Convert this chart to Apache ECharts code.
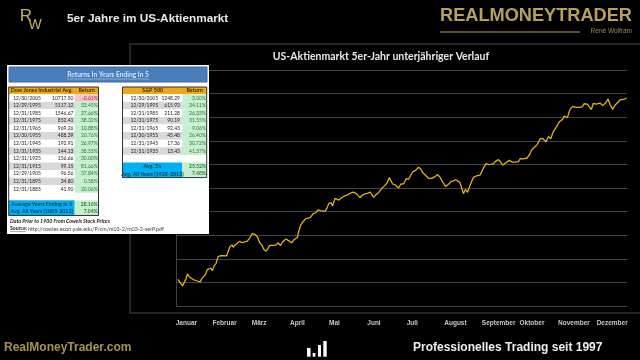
<!DOCTYPE html>
<html>
<head>
<meta charset="utf-8">
<style>
  html, body { margin: 0; background: #000; }
  #chart { width: 640px; height: 360px; }
</style>
<script src="https://cdn.jsdelivr.net/npm/echarts@6/dist/echarts.min.js"></script>
</head>
<body>
<div id="chart"></div>
<script>
const months = ['Januar', 'Februar', 'März', 'April', 'Mai', 'Juni', 'Juli', 'August', 'September', 'Oktober', 'November', 'Dezember']
const monthTicks = [8, 39, 67, 98, 128, 160, 191, 226, 261, 288, 322, 353]

// day of the year and index level (no scale is shown, 0-100 here)
const days = [1.1, 2.4, 3.5, 4.9, 5.9, 7.6, 8.9, 10.3, 11.9, 13.5, 14.6, 16.2, 17.5, 19.2, 20.5, 22.1, 23.5, 24.8, 26.4, 27.8, 29.1, 30.5, 32.1, 33.7, 35.6, 37.8, 40.5, 41.5, 43.2, 45.0, 45.9, 47.7, 49.6, 51.3, 53.1, 55.0, 57.2, 59.3, 61.5, 62.6, 64.2, 65.8, 67.4, 69.1, 70.7, 72.6, 73.9, 75.5, 77.1, 78.8, 80.7, 82.3, 84.2, 85.8, 87.4, 88.7, 90.4, 91.7, 93.3, 95.0, 96.6, 97.9, 99.0, 100.6, 102.5, 104.7, 106.3, 108.4, 110.6, 112.7, 114.6, 116.5, 118.1, 120.3, 121.9, 123.5, 125.2, 126.5, 128.4, 130.0, 131.6, 133.8, 135.9, 138.1, 140.3, 142.4, 144.6, 146.5, 148.6, 150.5, 152.7, 154.8, 157.0, 158.3, 159.7, 161.8, 163.7, 165.1, 166.4, 168.3, 170.5, 172.4, 173.5, 175.1, 177.2, 179.9, 181.8, 184.2, 186.1, 188.0, 189.9, 191.5, 194.0, 196.1, 198.0, 199.6, 201.8, 204.2, 206.9, 209.1, 211.5, 213.6, 215.8, 218.0, 220.4, 222.3, 224.4, 226.1, 227.7, 229.6, 230.9, 232.5, 234.1, 235.8, 237.1, 238.5, 240.6, 242.8, 244.1, 246.0, 247.6, 249.2, 250.9, 252.8, 254.6, 256.8, 258.4, 260.8, 262.7, 264.3, 266.5, 268.1, 269.7, 271.9, 274.3, 277.0, 278.4, 280.5, 281.6, 283.8, 285.9, 288.1, 290.5, 292.4, 294.6, 296.7, 299.4, 301.3, 303.2, 305.3, 308.0, 310.2, 312.9, 314.0, 316.7, 318.8, 321.0, 323.7, 326.9, 329.1, 330.2, 332.9, 334.5, 336.1, 337.7, 339.9, 341.5, 343.1, 345.3, 347.4, 349.6, 351.2, 353.3, 355.5, 357.7, 359.3, 360.9, 363.0, 364.7]
const levels = [11.3, 11.9, 9.6, 8.5, 9.6, 11.3, 13.6, 12.4, 12.0, 11.2, 11.7, 10.7, 10.5, 10.2, 11.6, 12.4, 13.4, 15.3, 15.7, 16.1, 15.0, 17.0, 18.1, 20.9, 21.3, 21.3, 21.2, 22.6, 25.1, 25.9, 24.9, 26.0, 26.8, 27.4, 26.8, 27.2, 27.4, 28.8, 30.8, 31.2, 30.1, 29.1, 26.8, 25.9, 24.0, 23.2, 24.2, 25.7, 26.1, 25.7, 25.9, 26.8, 25.6, 27.1, 27.5, 28.4, 27.8, 27.5, 26.8, 28.0, 28.8, 29.1, 31.5, 34.3, 35.7, 37.0, 36.6, 37.4, 39.0, 39.5, 40.7, 40.4, 39.7, 40.1, 41.5, 43.5, 43.8, 42.4, 45.6, 46.2, 44.9, 45.9, 46.6, 47.0, 47.6, 48.2, 48.0, 47.2, 45.9, 46.9, 47.5, 47.7, 48.3, 47.5, 46.0, 47.3, 48.0, 48.0, 49.9, 50.8, 52.0, 54.4, 54.1, 51.7, 51.3, 50.0, 51.7, 51.8, 54.0, 53.7, 55.5, 56.9, 57.6, 58.8, 57.9, 56.5, 55.4, 54.1, 54.1, 54.7, 55.7, 54.5, 52.4, 50.7, 51.6, 52.7, 53.0, 53.5, 52.8, 52.4, 50.3, 47.6, 49.4, 48.2, 48.9, 52.0, 54.5, 55.1, 54.5, 55.5, 56.2, 59.0, 60.3, 59.9, 60.0, 60.3, 61.3, 62.0, 60.9, 59.7, 60.6, 60.0, 61.7, 61.0, 61.0, 61.2, 62.4, 62.3, 63.0, 62.6, 64.0, 66.4, 67.5, 68.5, 70.9, 71.0, 69.6, 71.8, 70.9, 73.9, 76.0, 78.1, 79.1, 80.5, 79.8, 83.3, 84.6, 84.2, 84.2, 84.5, 85.7, 85.5, 85.6, 83.2, 85.9, 85.5, 85.2, 86.0, 84.9, 85.9, 87.7, 85.5, 83.3, 85.2, 86.3, 87.3, 86.7, 87.7, 88.1]

const dowRows = [
  ['12/30/2005', '10717.50', '-0.61%'],
  ['12/29/1995', '5117.12', '33.45%'],
  ['12/31/1985', '1546.67', '27.66%'],
  ['12/31/1975', '852.41', '38.32%'],
  ['12/31/1965', '969.26', '10.88%'],
  ['12/30/1955', '488.39', '20.76%'],
  ['12/31/1945', '192.91', '26.97%'],
  ['12/31/1935', '144.13', '38.53%'],
  ['12/31/1925', '156.66', '30.00%'],
  ['12/31/1915', '99.15', '81.66%'],
  ['12/29/1905', '96.56', '37.84%'],
  ['12/31/1895', '34.80', '0.58%'],
  ['12/31/1885', '41.90', '20.06%']
]
const spRows = [
  ['12/30/2005', '1248.29', '3.00%'],
  ['12/29/1995', '615.93', '34.11%'],
  ['12/31/1985', '211.28', '26.33%'],
  ['12/31/1975', '90.19', '31.55%'],
  ['12/31/1965', '92.43', '9.06%'],
  ['12/30/1955', '45.48', '26.40%'],
  ['12/31/1945', '17.36', '30.72%'],
  ['12/31/1935', '13.43', '41.37%']
]
const dowSummary = [['Average Years Ending In 5', '28.16%'], ['Avg. All Years (1885-2013)', '7.04%']]
const spSummary = [["Avg. 5's", '25.32%'], ['Avg. All Years (1928-2013)', '7.48%']]

const tableFont = 'Lato, "Open Sans", sans-serif'
const headFont = '"Liberation Sans", sans-serif'
const gold = '#b8a05a'
const elements = []

function rect(x, y, width, height, fill, stroke) {
  elements.push({
    type: 'rect',
    z: 100,
    shape: { x, y, width, height },
    style: { fill: fill || 'transparent', stroke: stroke || null, lineWidth: stroke ? 1 : 0 }
  })
}

function label(text, x, y, opts) {
  opts = opts || {}
  elements.push({
    type: 'text',
    z: 100,
    x,
    y,
    style: {
      text,
      fill: opts.color || '#222',
      font: (opts.weight || 'normal') + ' ' + (opts.size || 5) + 'px ' + (opts.family || tableFont),
      align: opts.align || 'center',
      verticalAlign: 'middle'
    }
  })
}

function line(x1, y1, x2, y2, color, width) {
  elements.push({
    type: 'line',
    z: 100,
    shape: { x1, y1, x2, y2 },
    style: { stroke: color, lineWidth: width }
  })
}

function returnsTable(t) {
  const top = 87
  const rowH = 7.58
  const bodyTop = top + 7.2
  rect(t.left, top, t.right - t.left, 7, '#f0a818')
  label(t.title, t.titleX, top + 3.6, { weight: 'bold', color: '#3a2a00', size: 5.4 })
  label('Return', t.returnX, top + 3.6, { weight: 'bold', color: '#3a2a00', size: 5.4 })
  t.rows.forEach(function(row, i) {
    const y = bodyTop + i * rowH
    rect(t.left, y, t.right - t.left, rowH, i % 2 ? '#d9d9d9' : '#ffffff')
    rect(t.split, y, t.right - t.split, rowH, row[2].charAt(0) === '-' ? '#f8c4cc' : '#c6efce')
    label(row[0], t.dateX, y + rowH / 2)
    label(row[1], t.valueX, y + rowH / 2, { align: 'right' })
    label(row[2], t.right - 0.8, y + rowH / 2, { align: 'right', color: row[2].charAt(0) === '-' ? '#b02030' : '#2f7a3a' })
  })
  const blankY = bodyTop + t.rows.length * rowH
  const sumY = blankY + rowH
  rect(t.left, sumY, t.split - t.left, rowH * 2, '#00b0f0')
  rect(t.split, sumY, t.right - t.split, rowH * 2, '#c6efce')
  t.summary.forEach(function(row, i) {
    const y = sumY + (i + 0.5) * rowH
    label(row[0], (t.left + t.split) / 2, y, { weight: 'bold', color: '#123a5a', size: 5.3 })
    label(row[1], t.right - 0.8, y, { align: 'right', weight: 'bold', color: '#2f7a3a' })
  })
  rect(t.left, top, t.right - t.left, sumY + rowH * 2 - top, null, '#333')
}

// frame round the plot
elements.push({
  type: 'polyline',
  z: 1,
  shape: { points: [[640, 44], [130, 44], [130, 313], [640, 313]] },
  style: { fill: 'none', stroke: '#303030', lineWidth: 1.5 }
})

// table panel on top of the plot
rect(7, 65, 202, 169, '#ffffff')
rect(9, 67, 198, 15, '#4a7ebb', '#3a6aa0')
label('Returns In Years Ending In 5', 108, 74.6, { size: 6.6, weight: 'bold', color: '#cfe4fa' })
line(67, 79, 149, 79, '#cfe4fa', 0.5)

returnsTable({
  title: 'Dow Jones Industrial Avg.', titleX: 41.6, returnX: 86.7,
  left: 8.7, right: 98.5, split: 74.7, dateX: 27, valueX: 73.5,
  rows: dowRows, summary: dowSummary
})
returnsTable({
  title: 'S&P 500', titleX: 152.7, returnX: 194.7,
  left: 122.5, right: 206.7, split: 182.3, dateX: 144.3, valueX: 180,
  rows: spRows, summary: spSummary
})

label('Data Prior to 1900 From Cowels Stock Prices', 10, 220.8, { align: 'left', weight: 'italic bold', size: 5.3 })
label('Source:', 10, 228.8, { align: 'left', weight: 'bold', size: 5.2 })
label('http://cowles.econ.yale.edu/P/cm/m03-2/m03-2-serP.pdf', 28, 228.8, { align: 'left', size: 5.4, color: '#444' })
line(10, 231.6, 26, 231.6, '#222', 0.4)

// header and footer
label('R', 26, 16, { size: 17, color: '#c8b060', family: headFont })
label('W', 35, 25, { size: 14, color: '#c8b060', family: headFont })
label('5er Jahre im US-Aktienmarkt', 67, 18.5, { size: 11.8, weight: 'bold', color: '#e8e8e8', align: 'left', family: headFont })
label('REALMONEYTRADER', 632, 16, { size: 18.2, weight: 'bold', color: gold, align: 'right', family: headFont })
line(440, 32, 580, 32, gold, 1)
label('René Wolfram', 632, 31, { size: 6.5, color: '#9a8a5a', align: 'right', family: headFont })
label('RealMoneyTrader.com', 4, 348, { size: 12, weight: 'bold', color: '#a8924f', align: 'left', family: headFont })
label('Professionelles Trading seit 1997', 413, 348, { size: 12, weight: 'bold', color: '#eeeeee', align: 'left', family: headFont })
rect(307, 348, 3.6, 8.7, '#ffffff')
rect(312.7, 353, 2.6, 3.7, '#ffffff')
rect(318, 345, 3, 11.7, '#ffffff')
rect(323.3, 341, 3.4, 15.7, '#ffffff')

const chart = echarts.init(document.getElementById('chart'), null, { renderer: 'canvas' })

chart.setOption({
  backgroundColor: '#000',
  animation: false,
  title: {
    text: 'US-Aktienmarkt 5er-Jahr unterjähriger Verlauf',
    left: 381,
    top: 51,
    padding: 0,
    textAlign: 'center',
    textStyle: { color: '#e8e8e8', fontFamily: 'Lato, sans-serif', fontSize: 10.5, fontWeight: 'bold' }
  },
  grid: { left: 176.5, right: 13, top: 70, bottom: 54 },
  xAxis: {
    type: 'value',
    min: 0,
    max: 365,
    splitLine: { show: false },
    axisLine: { show: true, onZero: false, lineStyle: { color: '#444', width: 1 } },
    axisTick: { show: false },
    axisLabel: {
      color: '#c8c8c8',
      fontFamily: headFont,
      fontSize: 6.5,
      fontWeight: 'bold',
      margin: 14,
      customValues: monthTicks,
      hideOverlap: false,
      formatter: function(value) {
        return months[monthTicks.indexOf(value)]
      }
    }
  },
  yAxis: {
    type: 'value',
    min: 0,
    max: 100,
    interval: 10,
    axisLine: { show: true, lineStyle: { color: '#444', width: 1 } },
    axisTick: { show: false },
    axisLabel: { show: false },
    splitLine: { lineStyle: { color: '#444', width: 1 } }
  },
  series: [{
    type: 'line',
    data: days.map(function(day, i) {
      return [day, levels[i]]
    }),
    showSymbol: false,
    smooth: false,
    lineStyle: { color: '#e0b020', width: 1.3 }
  }],
  graphic: { elements }
})
</script>
</body>
</html>
